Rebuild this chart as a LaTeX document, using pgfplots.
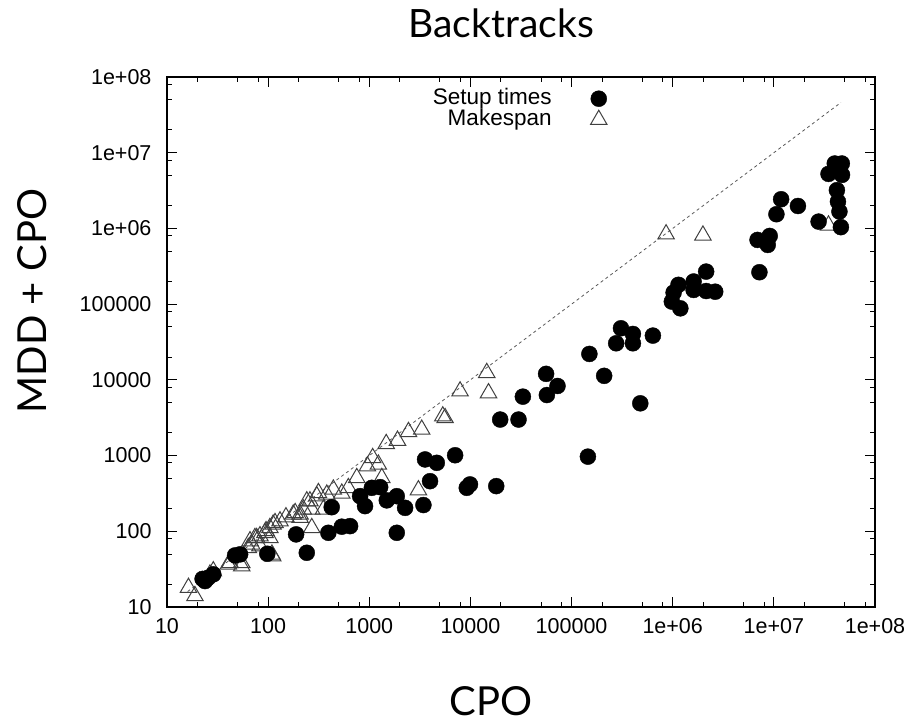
\documentclass[border=0pt]{standalone}
\usepackage{fontspec}
\setmainfont{Liberation Sans}
\newfontfamily\gill{Lato}
\usepackage{pgfplots}
\pgfplotsset{compat=1.18}
\usepackage{pgfplotstable}

% setup times (filled circles)
\pgfplotstableread{
x y
4.0e7 7.2e6
4.7e7 7.2e6
3.47e7 5.25e6
4.72e7 5.1e6
4.2e7 3.2e6
4.3e7 2.26e6
4.45e7 1.67e6
4.6e7 1.04e6
2.77e7 1.23e6
1.73e7 1.98e6
1.18e7 2.43e6
1.06e7 1.54e6
6.9e6 7.05e5
9.1e6 7.96e5
8.7e6 6.05e5
7.2e6 2.64e5
1.02e6 1.42e5
1.14e6 1.8e5
1.19e6 8.8e4
9.8e5 1.08e5
1.61e6 1.99e5
1.61e6 1.54e5
2.14e6 2.69e5
2.14e6 1.49e5
2.63e6 1.46e5
3.08e5 4.8e4
4.04e5 4.04e4
4.04e5 3.04e4
2.76e5 3.04e4
6.37e5 3.84e4
1.5e5 2.2e4
2.1e5 1.13e4
4.78e5 4.9e3
5.6e4 1.2e4
7.26e4 8.3e3
5.7e4 6.3e3
3.3e4 6.0e3
1.97e4 2.99e3
2.99e4 2.99e3
1.45e5 968
3.56e3 889
4.65e3 802
7.06e3 1010
3.99e3 459
9.2e3 375
9.9e3 416
1.8e4 395
1.06e3 375
1.28e3 383
811 291
908 215
1.49e3 256
1.87e3 291
2.26e3 204
3.43e3 222
425 208
394 95.5
535 115
646 117
1.87e3 95.5
189 91
241 52
98.2 50.5
47.1 48
52.8 49.6
23.8 22
25.6 24.4
28.7 27
22.5 23.5
}\setuptimes

% makespan (open triangles)
\pgfplotstableread{
x y
8.6e5 8.4e5
1.99e6 8.1e5
3.47e7 1.1e6
1.45e4 1.24e4
1.51e4 6.7e3
7.9e3 7.08e3
5.33e3 3.31e3
5.62e3 3.14e3
3.3e3 2.21e3
2.44e3 2.06e3
1.9e3 1.58e3
1.47e3 1.43e3
1.08e3 933
958 725
1.23e3 763
1.33e3 508
752 508
3.06e3 350
441 357
535 316
621 375
314 322
303 291
380 307
352 194
270 111
241 250
259 250
223 194
270 194
185 175
207 167
177 167
207 151
150 154
131 136
117 129
112 123
104 111
95.3 101
93 95.5
83 86.5
74 82
77 82
104 82
83 63.8
66.2 74.3
68.8 67.1
63.7 60.5
54.8 38.4
42 38.4
40.4 36.6
54.8 34.7
109 49.5
111 47
28.7 29.8
26.6 27
16.3 18
18.9 14
}\makespan

\begin{document}
\begin{tikzpicture}
\path[use as bounding box] (-167pt,-115pt) rectangle (746pt,607pt);
\begin{axis}[
    at={(0,0)}, anchor=south west,
    scale only axis, width=708pt, height=530pt,
    xmode=log, ymode=log,
    xmin=10, xmax=1e8, ymin=10, ymax=1e8,
    xtick={10,100,1000,10000,100000,1000000,10000000,100000000},
    ytick={10,100,1000,10000,100000,1000000,10000000,100000000},
    xticklabels={10,100,1000,10000,100000,1e+06,1e+07,1e+08},
    yticklabels={10,100,1000,10000,100000,1e+06,1e+07,1e+08},
    minor xtick={20,50,80,200,500,800,2000,5000,8000,20000,50000,80000,2e5,5e5,8e5,2e6,5e6,8e6,2e7,5e7,8e7},
    minor ytick={20,50,80,200,500,800,2000,5000,8000,20000,50000,80000,2e5,5e5,8e5,2e6,5e6,8e6,2e7,5e7,8e7},
    tick align=inside,
    major tick length=10pt, minor tick length=5pt,
    tick style={black, line width=1pt},
    axis line style={line width=1.3pt},
    tick label style={font=\fontsize{21.5}{24}\selectfont},
    xticklabel style={yshift=-8pt},
    yticklabel style={xshift=-12pt},
    title={Backtracks},
    title style={at={(0.472,1.064)}, anchor=base, font=\gill\fontsize{39}{40}\selectfont},
    xlabel={CPO},
    xlabel style={at={(0.458,-0.204)}, anchor=base, font=\gill\fontsize{40}{40}\selectfont},
    ylabel={MDD + CPO},
    ylabel style={at={(-0.17,0.577)}, anchor=base, font=\gill\fontsize{40}{40}\selectfont},
    legend style={draw=none, fill=none, at={(0.626,0.983)}, anchor=north east,
        font=\fontsize{22.5}{22}\selectfont, column sep=38pt,
        nodes={inner sep=1pt, text depth=4pt, text height=15pt}},
    legend plot pos=right,
    legend cell align=right,
]
\addlegendimage{only marks, mark=*, mark size=8pt, black}
\addlegendentry{Setup times}
\addlegendimage{only marks, mark=triangle, mark size=9.5pt, black!75, mark options={line width=1pt}}
\addlegendentry{Makespan}

\addplot[forget plot, black!65, line width=0.8pt, dash pattern=on 3pt off 3pt] coordinates {(16,16) (4.6e7,4.6e7)};
\addplot[forget plot, only marks, mark=triangle, mark size=9.5pt, black!75, mark options={line width=1pt}] table[x=x, y=y] {\makespan};
\addplot[forget plot, only marks, mark=*, mark size=8pt, black] table[x=x, y=y] {\setuptimes};
\end{axis}
\end{tikzpicture}
\end{document}
